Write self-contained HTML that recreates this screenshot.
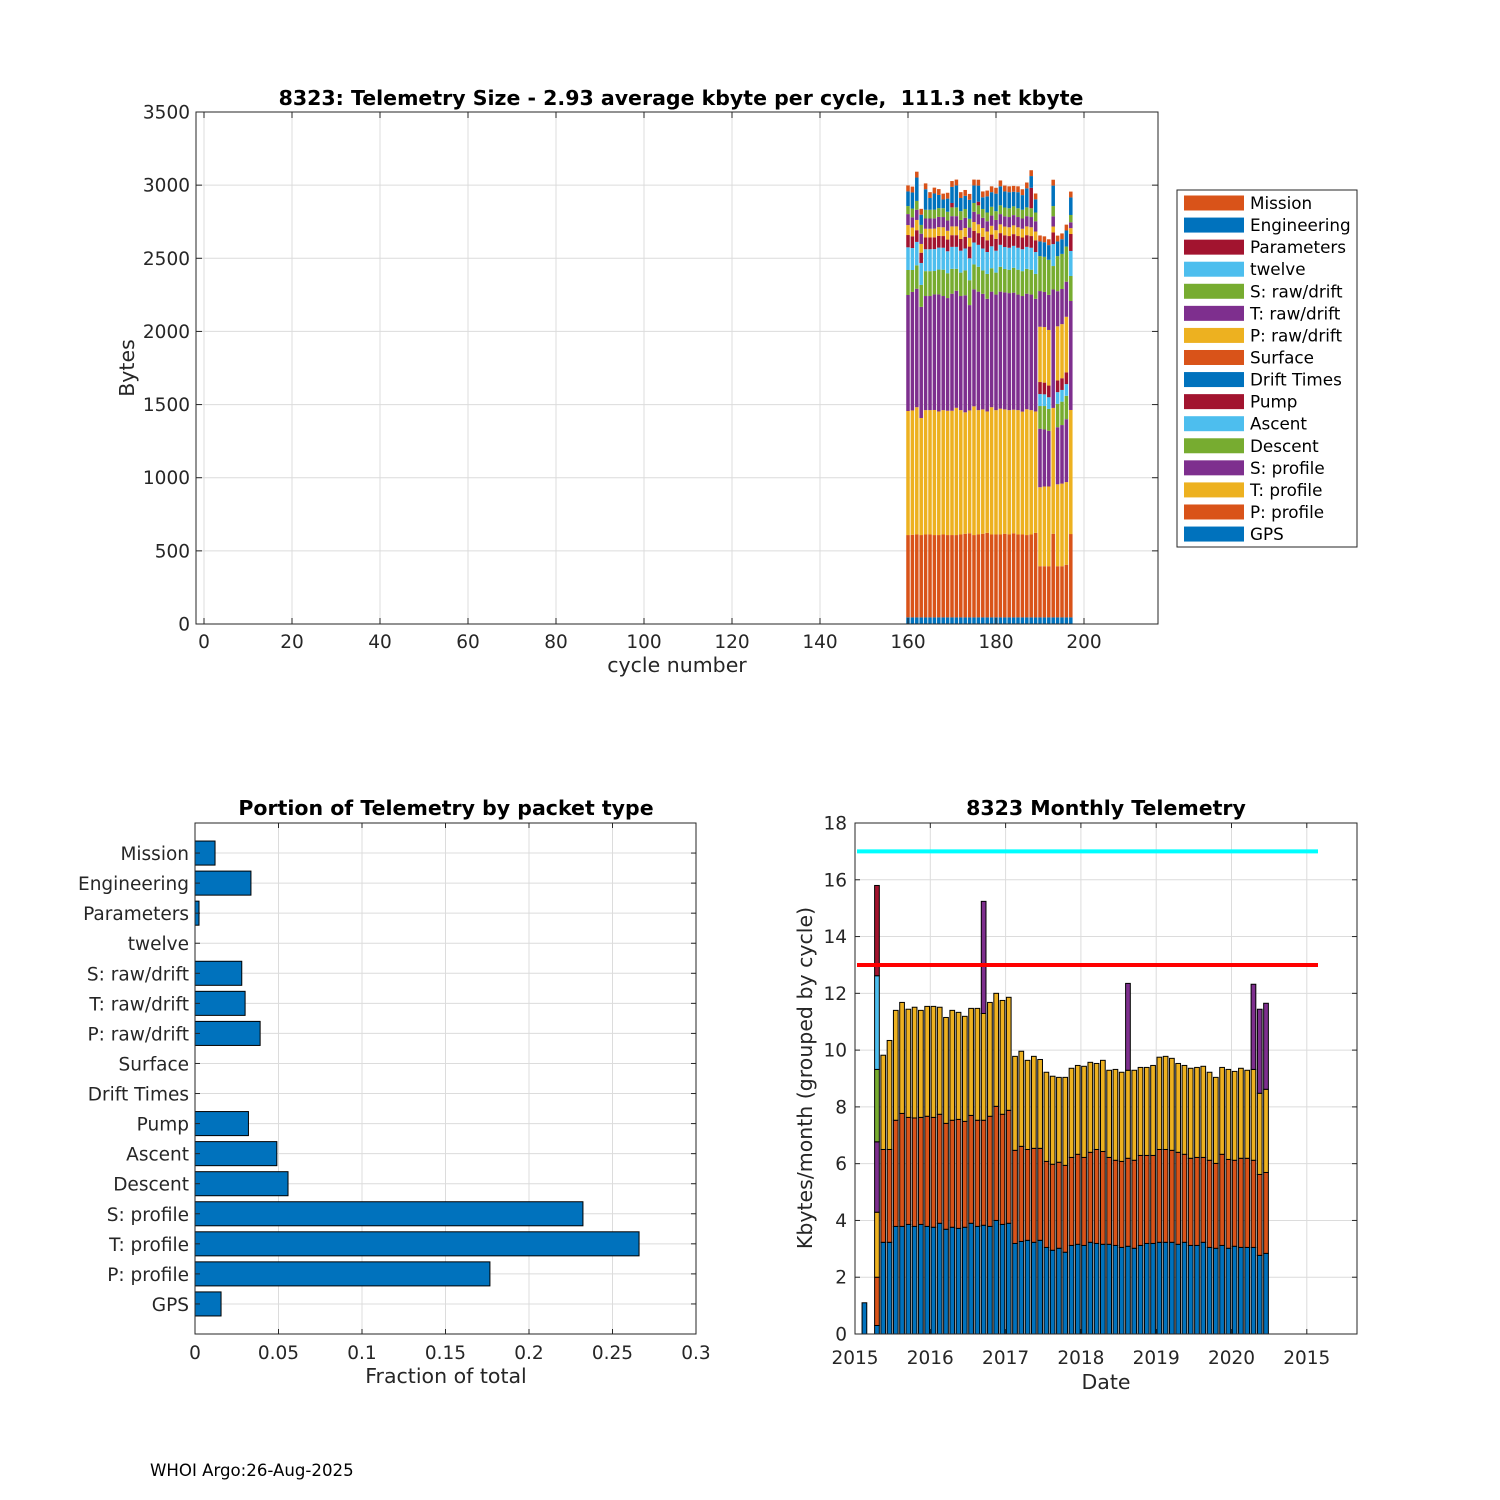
<!DOCTYPE html>
<html><head><meta charset="utf-8"><style>
body{margin:0;background:#fff}
svg{display:block;font-family:"DejaVu Sans","Liberation Sans",sans-serif}
</style></head><body>
<svg id="fig" width="1500" height="1500" viewBox="0 0 1500 1500" xmlns="http://www.w3.org/2000/svg">
<rect width="1500" height="1500" fill="#fff"/>
<g id="top"></g>
<g id="bl"></g>
<g id="br"></g>
<text x="150" y="1476" font-size="16.6" fill="#000">WHOI Argo:26-Aug-2025</text>
</svg>
<script>
// ---------- top chart data ----------
const cycles = [160,161,162,163,164,165,166,167,168,169,170,171,172,173,174,175,176,177,178,179,180,181,182,183,184,185,186,187,188,189,190,191,192,193,194,195,196,197];
const seriesNames = ["GPS","P: profile","T: profile","S: profile","Descent","Ascent","Pump","Drift Times","Surface","P: raw/drift","T: raw/drift","S: raw/drift","twelve","Parameters","Engineering","Mission"];
const gpsV = [45,45,45,45,45,45,45,45,45,45,45,45,45,45,45,45,45,45,45,45,45,45,45,45,45,45,45,45,45,45,45,45,45,45,45,45,45,45];
const pprofV = [563,565,567,563,567,567,563,563,567,563,563,563,567,572,575,563,567,572,578,567,567,567,572,567,575,567,567,563,567,578,350,350,350,572,350,350,360,570];
const tprofV = [848,850,870,800,850,850,855,845,850,850,850,870,850,830,840,880,850,850,830,870,850,860,850,850,845,850,840,860,850,830,540,545,545,860,560,565,565,848];
const sprofV = [793,810,810,760,780,780,790,800,780,770,800,800,780,800,720,800,810,790,770,790,790,800,800,800,800,790,790,790,790,770,400,390,380,810,390,400,430,745];
const descV = [171,150,160,150,170,170,160,170,180,170,170,150,160,170,170,170,170,160,170,160,150,170,160,160,170,170,170,170,170,170,155,160,150,160,160,160,160,171];
const ascV = [155,150,160,150,150,150,150,150,150,150,150,150,150,150,150,150,150,150,150,150,150,150,150,150,150,150,150,150,150,150,82,80,80,150,80,80,80,171];
const pumpV = [84,80,80,70,80,80,80,80,80,80,80,80,80,80,80,80,80,80,80,80,80,80,80,80,80,80,80,80,80,80,82,80,80,80,80,80,80,116];
const driftV = [0,0,0,0,0,0,0,0,0,0,0,0,0,0,0,0,0,0,0,0,0,0,0,0,0,0,0,0,0,0,0,0,0,0,0,0,0,0];
const surfV = [0,0,0,0,0,0,0,0,0,0,0,0,0,0,0,0,0,0,0,0,0,0,0,0,0,0,0,0,0,0,0,0,0,0,0,0,0,0];
const prawV = [68,60,70,60,60,60,60,60,60,60,60,60,60,60,60,60,60,60,60,60,60,60,60,60,60,60,60,60,60,60,378,380,380,40,370,370,380,40];
const trawV = [75,70,70,70,70,70,70,70,70,70,70,70,70,70,70,70,70,70,70,70,70,70,70,70,70,70,70,70,70,70,244,240,240,70,240,240,240,40];
const srawV = [55,60,60,60,60,60,60,60,60,60,60,60,60,60,60,60,60,60,60,60,60,60,60,60,60,60,60,60,60,60,239,240,240,70,240,240,240,50];
const twelveV = [0,0,0,0,0,0,0,0,0,0,0,0,0,0,0,0,0,0,0,0,0,0,0,0,0,0,0,0,0,0,0,0,0,0,0,0,0,0];
const paramV = [0,0,0,0,0,0,0,0,0,0,30,0,0,0,0,0,25,0,0,0,0,0,0,0,0,0,0,0,140,0,0,0,0,0,0,0,0,0];
const engV = [100,110,160,70,140,80,110,90,60,90,110,150,90,90,130,120,110,80,110,100,120,130,110,110,100,110,100,130,80,90,100,100,100,140,100,100,110,120];
const missionV = [41,40,40,40,40,40,40,40,40,40,40,40,40,40,40,40,40,40,40,40,40,40,40,40,40,40,40,40,40,40,41,40,40,40,40,40,40,40];
const topXTicks = [0,20,40,60,80,100,120,140,160,180,200];
const topYTicks = [0,500,1000,1500,2000,2500,3000,3500];

// ---------- portion chart data ----------
const portionCats = ["GPS","P: profile","T: profile","S: profile","Descent","Ascent","Pump","Drift Times","Surface","P: raw/drift","T: raw/drift","S: raw/drift","twelve","Parameters","Engineering","Mission"];
const portionVals = [0.0156,0.1766,0.2659,0.2323,0.0557,0.049,0.032,0,0,0.039,0.030,0.028,0,0.0024,0.0335,0.012];
const portionXTicks = [0,0.05,0.1,0.15,0.2,0.25,0.3];
const portionXLabels = ["0","0.05","0.1","0.15","0.2","0.25","0.3"];

// ---------- monthly chart data (months since Jan 2015, cumulative stack tops) ----------
const months = [1,3,4,5,6,7,8,9,10,11,12,13,14,15,16,17,18,19,20,21,22,23,24,25,26,27,28,29,30,31,32,33,34,35,36,37,38,39,40,41,42,43,44,45,46,47,48,49,50,51,52,53,54,55,56,57,58,59,60,61,62,63,64,65];
const topBlue = [1.1,0.3,3.23,3.23,3.79,3.79,3.86,3.79,3.86,3.79,3.76,3.90,3.69,3.76,3.72,3.76,3.90,3.79,3.83,3.79,4.00,3.86,3.90,3.19,3.26,3.30,3.23,3.30,3.05,2.95,3.02,2.88,3.12,3.16,3.12,3.23,3.19,3.16,3.16,3.12,3.05,3.09,3.02,3.12,3.19,3.19,3.23,3.23,3.23,3.16,3.23,3.12,3.12,3.23,3.05,3.02,3.12,3.02,3.09,3.05,3.05,3.05,2.77,2.84];
const topOrange = [1.1,2.0,6.50,6.50,7.53,7.77,7.63,7.61,7.63,7.67,7.63,7.74,7.42,7.53,7.56,7.49,7.70,7.53,7.53,7.67,8.02,7.74,7.88,6.47,6.61,6.50,6.54,6.54,6.08,5.98,6.05,5.94,6.22,6.33,6.22,6.40,6.50,6.43,6.22,6.12,6.08,6.19,6.12,6.29,6.29,6.29,6.50,6.50,6.47,6.40,6.33,6.19,6.22,6.22,6.12,6.01,6.33,6.15,6.12,6.19,6.19,6.12,5.62,5.69];
const topYellow = [1.1,4.29,9.82,10.34,11.40,11.68,11.44,11.51,11.40,11.54,11.54,11.51,11.15,11.40,11.33,11.19,11.47,11.47,11.29,11.68,12.00,11.75,11.86,9.78,9.96,9.64,9.78,9.67,9.22,9.08,9.04,9.04,9.36,9.46,9.43,9.57,9.53,9.64,9.29,9.32,9.22,9.29,9.29,9.39,9.39,9.46,9.75,9.78,9.71,9.53,9.46,9.36,9.39,9.43,9.22,9.04,9.39,9.32,9.25,9.36,9.29,9.32,8.48,8.62];
const topPurple = [1.1,6.77,9.82,10.34,11.40,11.68,11.44,11.51,11.40,11.54,11.54,11.51,11.15,11.40,11.33,11.19,11.47,11.47,15.24,11.68,12.00,11.75,11.86,9.78,9.96,9.64,9.78,9.67,9.22,9.08,9.04,9.04,9.36,9.46,9.43,9.57,9.53,9.64,9.29,9.32,9.22,12.35,9.29,9.39,9.39,9.46,9.75,9.78,9.71,9.53,9.46,9.36,9.39,9.43,9.22,9.04,9.39,9.32,9.25,9.36,9.29,12.32,11.44,11.65];
const topGreen = [1.1,9.32];
const topLightBlue = [1.1,12.62];
const topDarkRed = [1.1,15.8];
const monthlyYTicks = [0,2,4,6,8,10,12,14,16,18];
const monthlyXTicks = [2015,2016,2017,2018,2019,2020,2021];
const monthlyXLabels = ["2015","2016","2017","2018","2019","2020","2015"];
const limitLines = [17,13];

const NS="http://www.w3.org/2000/svg";
const C={blue:"#0072BD",orange:"#D95319",yellow:"#EDB120",purple:"#7E2F8E",green:"#77AC30",lblue:"#4DBEEE",red:"#A2142F"};
const TF=18.5, AF=20.5, HF=20.5;
function mk(parent,tag,attrs,txt){const e=document.createElementNS(NS,tag);for(const k in attrs)e.setAttribute(k,attrs[k]);if(txt!==undefined)e.textContent=txt;parent.appendChild(e);return e;}

// ===== TOP CHART =====
(function(){
const g=document.getElementById('top');
const L=196,R=1158,T=112,B=624;
const xS=c=>204+4.4*c, yS=v=>B-v*(B-T)/3500;
for(const t of topXTicks){const l=mk(g,'line',{x1:xS(t),x2:xS(t),y1:T,y2:B,stroke:'#dcdcdc','stroke-width':1});

}
for(const t of topYTicks){const l=mk(g,'line',{x1:L,x2:R,y1:yS(t),y2:yS(t),stroke:'#dcdcdc','stroke-width':1});

}
const series=[gpsV,pprofV,tprofV,sprofV,descV,ascV,pumpV,driftV,surfV,prawV,trawV,srawV,twelveV,paramV,engV,missionV];
const cols=[C.blue,C.orange,C.yellow,C.purple,C.green,C.lblue,C.red,C.blue,C.orange,C.yellow,C.purple,C.green,C.lblue,C.red,C.blue,C.orange];
cycles.forEach((c,i)=>{let acc=0;
 series.forEach((s,k)=>{const v=s[i];if(v<=0)return;
  const r=mk(g,'rect',{x:xS(c-0.4),y:yS(acc+v),width:4.4*0.8,height:yS(acc)-yS(acc+v),fill:cols[k]});
  
  
  acc+=v;});
});
mk(g,'rect',{x:L,y:T,width:R-L,height:B-T,fill:'none',stroke:'#262626','stroke-width':1});
for(const t of topXTicks){mk(g,'line',{x1:xS(t),x2:xS(t),y1:B,y2:B-6,stroke:'#262626'});mk(g,'line',{x1:xS(t),x2:xS(t),y1:T,y2:T+6,stroke:'#262626'});
 const tx=mk(g,'text',{x:xS(t),y:648,'font-size':TF,'text-anchor':'middle',fill:'#262626'},String(t));
 
 }
for(const t of topYTicks){mk(g,'line',{x1:L,x2:L+6,y1:yS(t),y2:yS(t),stroke:'#262626'});mk(g,'line',{x1:R,x2:R-6,y1:yS(t),y2:yS(t),stroke:'#262626'});
 const tx=mk(g,'text',{x:190,y:yS(t)+6.5,'font-size':TF,'text-anchor':'end',fill:'#262626'},String(t));
 
 }
let e=mk(g,'text',{x:681,y:105,'font-size':HF,'font-weight':'bold','text-anchor':'middle',fill:'#000'},'8323: Telemetry Size - 2.93 average kbyte per cycle,\u00a0 111.3 net kbyte');

e=mk(g,'text',{x:677,y:672,'font-size':AF,'text-anchor':'middle',fill:'#262626'},'cycle number');

e=mk(g,'text',{x:0,y:0,'font-size':AF,'text-anchor':'middle',fill:'#262626',transform:'translate(134,368) rotate(-90)'},'Bytes');

// legend
const lg=mk(g,'g',{});


mk(lg,'rect',{x:1177,y:190,width:180,height:357,fill:'#fff',stroke:'#262626'});
const order=seriesNames.slice().reverse(), ocols=cols.slice().reverse();
order.forEach((n,i)=>{const y=203+i*22.07;
 const en=mk(lg,'g',{});
 
 
 mk(en,'rect',{x:1184,y:y-7.5,width:60,height:15,fill:ocols[i]});
 mk(en,'text',{x:1250,y:y+6,'font-size':16.8,fill:'#000'},n);});
})();

// ===== BOTTOM LEFT =====
(function(){
const g=document.getElementById('bl');
const L=195,R=696,T=823,B=1334;
const xS=v=>L+v*(R-L)/0.3, yS=k=>B-k*(B-T)/17;
portionXTicks.forEach(t=>{mk(g,'line',{x1:xS(t),x2:xS(t),y1:T,y2:B,stroke:'#dcdcdc'});});
portionCats.forEach((c,i)=>{mk(g,'line',{x1:L,x2:R,y1:yS(i+1),y2:yS(i+1),stroke:'#dcdcdc'});});
portionCats.forEach((c,i)=>{const v=portionVals[i];
 if(v>0){const r=mk(g,'rect',{x:L,y:yS(i+1.4),width:xS(v)-L,height:yS(i+0.6)-yS(i+1.4),fill:C.blue,stroke:'#000','stroke-width':1});
 
 }
 const t=mk(g,'text',{x:189,y:yS(i+1)+7,'font-size':TF,'text-anchor':'end',fill:'#262626'},c);
 
 
 mk(g,'line',{x1:L,x2:L+5,y1:yS(i+1),y2:yS(i+1),stroke:'#262626'});
 mk(g,'line',{x1:R,x2:R-5,y1:yS(i+1),y2:yS(i+1),stroke:'#262626'});
});
mk(g,'rect',{x:L,y:T,width:R-L,height:B-T,fill:'none',stroke:'#262626'});
portionXTicks.forEach((t,i)=>{mk(g,'line',{x1:xS(t),x2:xS(t),y1:B,y2:B-5,stroke:'#262626'});mk(g,'line',{x1:xS(t),x2:xS(t),y1:T,y2:T+5,stroke:'#262626'});
 const tx=mk(g,'text',{x:xS(t),y:1359,'font-size':TF,'text-anchor':'middle',fill:'#262626'},portionXLabels[i]);
 
 });
let e=mk(g,'text',{x:446,y:815,'font-size':HF,'font-weight':'bold','text-anchor':'middle',fill:'#000'},'Portion of Telemetry by packet type');

e=mk(g,'text',{x:446,y:1383,'font-size':AF,'text-anchor':'middle',fill:'#262626'},'Fraction of total');

})();

// ===== BOTTOM RIGHT =====
(function(){
const g=document.getElementById('br');
const L=855,R=1357,T=823,B=1334;
const xS=yr=>L+(yr-2015)*75.3, yS=v=>B-v*(B-T)/18;
monthlyXTicks.forEach(t=>mk(g,'line',{x1:xS(t),x2:xS(t),y1:T,y2:B,stroke:'#dcdcdc'}));
monthlyYTicks.forEach(t=>mk(g,'line',{x1:L,x2:R,y1:yS(t),y2:yS(t),stroke:'#dcdcdc'}));
const stacks=[[topBlue,C.blue,'blue'],[topOrange,C.orange,'orange'],[topYellow,C.yellow,'yellow'],[topPurple,C.purple,'purple'],[topGreen,C.green,'green'],[topLightBlue,C.lblue,'lightblue'],[topDarkRed,C.red,'darkred']];
months.forEach((m,i)=>{let prev=0;const cx=2015+(m+0.5)/12,w=0.75/12*75.3;
 stacks.forEach(([arr,col,nm])=>{if(i>=arr.length)return;const top=arr[i];if(top<=prev)return;
  const r=mk(g,'rect',{x:xS(cx)-w/2,y:yS(top),width:w,height:yS(prev)-yS(top),fill:col,stroke:'#000','stroke-width':1});
  
  
  prev=top;});
});
const lc=['#00FFFF','#FF0000'];
limitLines.forEach((v,i)=>{const l=mk(g,'line',{x1:857,x2:1318,y1:yS(v),y2:yS(v),stroke:lc[i],'stroke-width':4});
 
 });
mk(g,'rect',{x:L,y:T,width:R-L,height:B-T,fill:'none',stroke:'#262626'});
monthlyYTicks.forEach(t=>{mk(g,'line',{x1:L,x2:L+5,y1:yS(t),y2:yS(t),stroke:'#262626'});mk(g,'line',{x1:R,x2:R-5,y1:yS(t),y2:yS(t),stroke:'#262626'});
 const tx=mk(g,'text',{x:847,y:yS(t)+6.5,'font-size':TF,'text-anchor':'end',fill:'#262626'},String(t));
 
 });
monthlyXTicks.forEach((t,i)=>{mk(g,'line',{x1:xS(t),x2:xS(t),y1:B,y2:B-5,stroke:'#262626'});mk(g,'line',{x1:xS(t),x2:xS(t),y1:T,y2:T+5,stroke:'#262626'});
 const tx=mk(g,'text',{x:xS(t),y:1364,'font-size':TF,'text-anchor':'middle',fill:'#262626'},monthlyXLabels[i]);
 
 });
let e=mk(g,'text',{x:1106,y:815,'font-size':HF,'font-weight':'bold','text-anchor':'middle',fill:'#000'},'8323 Monthly Telemetry');

e=mk(g,'text',{x:1106,y:1389,'font-size':AF,'text-anchor':'middle',fill:'#262626'},'Date');

e=mk(g,'text',{x:0,y:0,'font-size':AF,'text-anchor':'middle',fill:'#262626',transform:'translate(812,1078) rotate(-90)'},'Kbytes/month (grouped by cycle)');

})();
</script>
</body></html>
